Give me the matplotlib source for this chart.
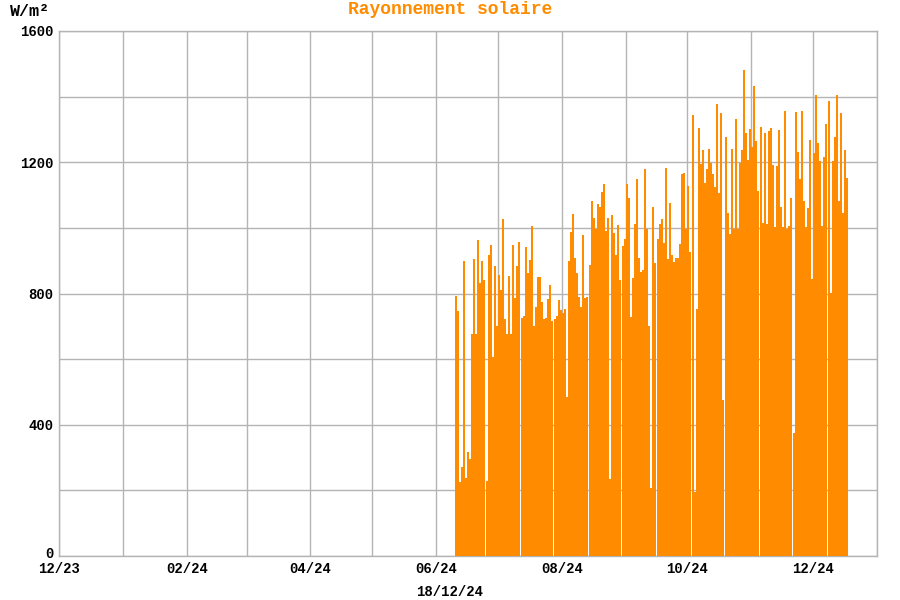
#!/usr/bin/env python3
"""Rayonnement solaire - barres journalieres"""

import pandas as pd
import matplotlib
matplotlib.use("Agg")
import matplotlib.pyplot as plt
import matplotlib.dates as mdates
from matplotlib.transforms import ScaledTranslation

# valeurs journalieres (W/m2) a partir du 10/06/24
first_day = "2024-06-10"
radiation = [
    792, 746, 226, 272, 898, 238, 317, 296, 678, 906, 676, 964, 832, 900, 842, 230,
    918, 948, 606, 885, 700, 855, 811, 1028, 721, 676, 852, 678, 948, 785, 883, 956,
    725, 730, 943, 864, 902, 1006, 702, 760, 851, 850, 775, 721, 725, 783, 827, 717,
    721, 730, 779, 749, 740, 752, 486, 900, 986, 1041, 908, 862, 788, 760, 979, 785,
    789, 886, 1081, 1031, 997, 1073, 1064, 1109, 1135, 990, 1029, 236, 1040, 983, 918, 1010,
    842, 944, 965, 1135, 1091, 727, 848, 1012, 1148, 907, 866, 871, 1180, 997, 701, 206,
    1064, 892, 967, 1012, 1028, 955, 1184, 905, 1076, 918, 896, 909, 908, 952, 1164, 1166,
    996, 1129, 928, 1343, 195, 752, 1305, 1196, 1238, 1136, 1180, 1241, 1199, 1165, 1124, 1378,
    1105, 1350, 475, 1276, 1046, 980, 1241, 996, 1333, 996, 1198, 1238, 1480, 1289, 1208, 1302,
    1247, 1432, 1264, 1111, 1308, 1016, 1289, 1012, 1296, 1303, 1193, 1002, 1189, 1299, 1063, 1002,
    1357, 996, 1007, 1091, 375, 1353, 1232, 1149, 1357, 1081, 1002, 1060, 1269, 845, 1229, 1406,
    1258, 1204, 1007, 1217, 1318, 1386, 803, 1204, 1278, 1406, 1081, 1350, 1045, 1237, 1153,
]
y_ticks = [0, 400, 800, 1200, 1600]

days = pd.date_range(first_day, periods=len(radiation), freq="D")

plt.rcParams['font.family'] = ['Liberation Mono', 'DejaVu Sans Mono']
plt.rcParams['font.weight'] = 'bold'

orange = '#ff8c00'
grid_col = '#b4b4b4'

fig = plt.figure(figsize=(9, 6), dpi=100)
ax = fig.add_axes([59 / 900, 44 / 600, 818 / 900, 525 / 600])

ax.bar(days, radiation, width=0.97, color=orange, align='edge', linewidth=0, zorder=3)

ax.set_xlim(pd.Timestamp("2023-12-01"), pd.Timestamp("2025-01-01"))
ax.set_ylim(0, 1600)

# mois : grille chaque mois, etiquette tous les deux mois
ax.xaxis.set_major_locator(mdates.MonthLocator(bymonth=[2, 4, 6, 8, 10, 12]))
ax.xaxis.set_minor_locator(mdates.MonthLocator())
ax.xaxis.set_major_formatter(mdates.DateFormatter('%m/%y'))
ax.set_yticks(y_ticks)
ax.set_yticks(range(0, 1601, 200), minor=True)

ax.grid(True, which='both', color=grid_col, linewidth=1, zorder=0)
ax.set_axisbelow(True)
ax.tick_params(which='both', length=0)
ax.tick_params(axis='x', pad=4, labelsize=10)
ax.tick_params(axis='y', pad=4, labelsize=10)
for sp in ax.spines.values():
    sp.set_color(grid_col)
    sp.set_linewidth(1)

# le "0" est legerement remonte pour ne pas toucher "12/23"
ylab0 = ax.get_yticklabels()[0]
ylab0.set_transform(ylab0.get_transform() + ScaledTranslation(0, 3 / 100, fig.dpi_scale_trans))

fig.text(10 / 900, 1 - 12 / 600, 'W/m²', ha='left', va='center',
         fontsize=12, fontweight='bold', color='black')
fig.text(0.5, 1 - 10 / 600, 'Rayonnement solaire', ha='center', va='center',
         fontsize=13, fontweight='bold', color=orange)
fig.text(0.5, 1 - 592 / 600, '18/12/24', ha='center', va='center',
         fontsize=10, fontweight='bold', color='black')

fig.savefig('out.png', dpi=100)
